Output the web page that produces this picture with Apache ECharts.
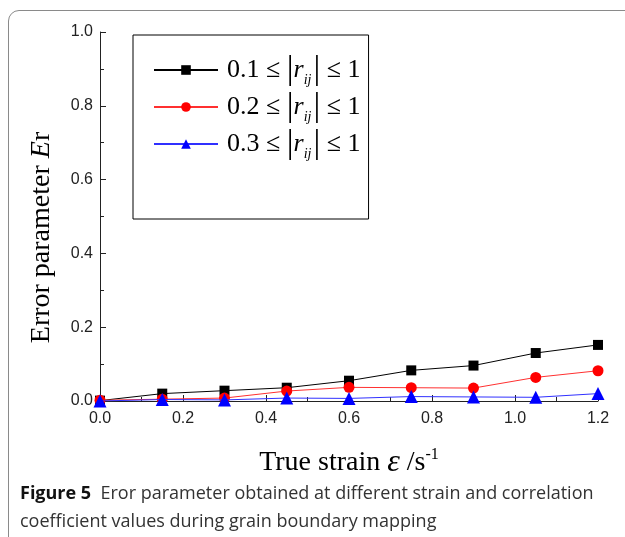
<!DOCTYPE html>
<html>
<head>
<meta charset="utf-8">
<script src="https://cdn.jsdelivr.net/npm/echarts@6/dist/echarts.min.js"></script>
<style>
  html, body { margin: 0; padding: 0; background: #fff; overflow: hidden; }
  #frame { position: absolute; left: 8px; top: 10px; width: 700px; height: 600px;
           border: 1px solid #8a8a8a; border-radius: 11px; }
  #main { position: absolute; left: 0; top: 0; width: 625px; height: 537px; }
</style>
</head>
<body>
<div id="frame"></div>
<div id="main"></div>
<script>
// strain values (x)
const strain = [0, 0.15, 0.3, 0.45, 0.6, 0.75, 0.9, 1.05, 1.2];
// error parameter Er for each correlation range
const er01 = [0.001, 0.020, 0.028, 0.036, 0.055, 0.083, 0.096, 0.130, 0.152];
const er02 = [0.002, 0.005, 0.008, 0.027, 0.037, 0.036, 0.035, 0.064, 0.082];
const er03 = [0.000, 0.004, 0.003, 0.008, 0.007, 0.012, 0.011, 0.010, 0.020];
const seriesNames = ['0.1', '0.2', '0.3'];

function pairs(ys) {
  return strain.map((x, i) => [x, ys[i]]);
}

let myChart = echarts.init(document.getElementById('main'));

const serif = 'Liberation Serif';
let option = {
  animation: false,
  title: {
    left: 15,
    top: 475,
    text: '{b|Figure 5}  Eror parameter obtained at different strain and correlation\ncoefficient values during grain boundary mapping',
    textStyle: {
      fontFamily: 'Open Sans',
      fontSize: 18,
      fontWeight: 'normal',
      color: '#333',
      lineHeight: 28,
      rich: {
        b: { fontFamily: 'Open Sans', fontSize: 18, fontWeight: 'bold', color: '#111', lineHeight: 28 }
      }
    }
  },
  legend: {
    orient: 'vertical',
    left: 133,
    top: 35,
    padding: [18, 8, 58, 20],
    borderColor: '#000',
    borderWidth: 1,
    itemWidth: 64,
    itemHeight: 12,
    itemGap: 3,
    data: seriesNames,
    formatter: function (name) {
      return '{n|' + name + ' ≤ }{bar||}{r|r}{s|ij}{bar||}{n| ≤ 1}';
    },
    textStyle: {
      padding: [0, 0, 0, 4],
      rich: {
        n: { fontFamily: serif, fontSize: 26, color: '#000', lineHeight: 34 },
        bar: { fontFamily: serif, fontSize: 34, color: '#000', lineHeight: 34 },
        r: { fontFamily: serif, fontStyle: 'italic', fontSize: 26, color: '#000', lineHeight: 34 },
        s: { fontFamily: serif, fontStyle: 'italic', fontSize: 14, color: '#000', verticalAlign: 'bottom', lineHeight: 34, padding: [12, 2, 0, 0] }
      }
    }
  },
  grid: {
    left: 100,
    right: 27,
    top: 32,
    bottom: 136
  },
  xAxis: {
    type: 'value',
    min: 0,
    max: 1.2,
    interval: 0.2,
    name: 'True strain {i|ε} /s{sup|-1}',
    nameLocation: 'middle',
    nameGap: 46,
    nameTextStyle: {
      fontFamily: serif,
      fontSize: 28,
      color: '#000',
      rich: {
        i: { fontFamily: serif, fontStyle: 'italic', fontSize: 32, color: '#000' },
        sup: { fontFamily: serif, fontSize: 16, color: '#000', verticalAlign: 'top', padding: [0, 0, 14, 0] }
      }
    },
    splitLine: { show: false },
    axisLine: { lineStyle: { color: '#222', width: 1 } },
    axisTick: { inside: true, length: 6, lineStyle: { color: '#222' } },
    minorTick: { show: true, splitNumber: 2, length: 4, lineStyle: { color: '#222' } },
    axisLabel: {
      fontFamily: 'Liberation Sans',
      fontSize: 16,
      color: '#222',
      margin: 10,
      formatter: v => v.toFixed(1)
    }
  },
  yAxis: {
    type: 'value',
    min: 0,
    max: 1,
    interval: 0.2,
    name: 'Error parameter {i|E}r',
    nameLocation: 'middle',
    nameGap: 44,
    nameTextStyle: {
      fontFamily: serif,
      fontSize: 28,
      color: '#000',
      padding: [0, 42, 0, 0],
      rich: {
        i: { fontFamily: serif, fontStyle: 'italic', fontSize: 28, color: '#000' }
      }
    },
    splitLine: { show: false },
    axisLine: { show: true, lineStyle: { color: '#222', width: 1 } },
    axisTick: { show: true, inside: true, length: 6, lineStyle: { color: '#222' } },
    minorTick: { show: true, splitNumber: 2, length: 4, lineStyle: { color: '#222' } },
    axisLabel: {
      fontFamily: 'Liberation Sans',
      fontSize: 16,
      color: '#222',
      margin: 7,
      formatter: v => v.toFixed(1)
    }
  },
  series: [
    {
      name: seriesNames[0],
      type: 'line',
      data: pairs(er01),
      symbol: 'rect',
      symbolSize: 10,
      color: '#000',
      lineStyle: { width: 1, color: '#000' },
      itemStyle: { color: '#000' },
      z: 3
    },
    {
      name: seriesNames[1],
      type: 'line',
      data: pairs(er02),
      symbol: 'circle',
      symbolSize: 11,
      color: '#ff0000',
      lineStyle: { width: 1, color: '#ff3030' },
      itemStyle: { color: '#ff0000' },
      z: 4
    },
    {
      name: seriesNames[2],
      type: 'line',
      data: pairs(er03),
      symbol: 'triangle',
      symbolSize: 13,
      color: '#0000ff',
      lineStyle: { width: 1, color: '#3030ff' },
      itemStyle: { color: '#0000ff' },
      z: 5
    }
  ]
};
myChart.setOption(option);
</script>
</body>
</html>
